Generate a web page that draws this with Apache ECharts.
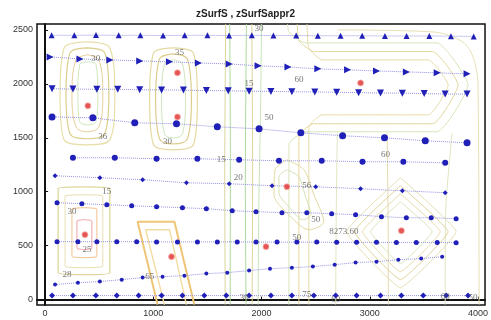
<!DOCTYPE html>
<html>
<head>
<meta charset="utf-8">
<script src="https://cdn.jsdelivr.net/npm/echarts@6/dist/echarts.min.js"></script>
<style>
  html, body { margin: 0; padding: 0; background: #fff; }
  #chart { width: 491px; height: 320px; }
</style>
</head>
<body>
<div id="chart"></div>
<script>
// axis ticks
const xTicks = [0, 1000, 2000, 3000, 4000];
const yTicks = [0, 500, 1000, 1500, 2000, 2500];

// flow rows (zSurfSappr2 gradient)
const rowA = [[60,2450],[270,2450],[470,2452],[680,2450],[880,2450],[1090,2448],[1290,2450],[1500,2450],[1700,2448],[1910,2450],[2110,2448],[2320,2448],[2520,2446],[2730,2446],[2930,2446],[3140,2444],[3340,2444],[3550,2444],[3750,2442],[3960,2440]];
const rowB = [[46,2250],[322,2231],[598,2222],[874,2213],[1149,2204],[1416,2194],[1701,2185],[1968,2167],[2244,2157],[2520,2139],[2795,2130],[3062,2120],[3338,2111],[3623,2102],[3899,2093]];
const rowC = [[64,1955],[257,1952],[478,1950],[671,1950],[874,1945],[1076,1944],[1278,1942],[1490,1938],[1692,1936],[1885,1932],[2087,1930],[2280,1927],[2492,1925],[2694,1922],[2897,1918],[3099,1915],[3301,1914],[3503,1910],[3697,1906],[3899,1905]];
const rowD = [[64,1694],[441,1685],[828,1639],[1214,1630],[1591,1602],[1977,1583],[2363,1546],[2749,1519],[3136,1500],[3513,1472],[3899,1454]];
const rowE = [[257,1315],[644,1315],[1030,1306],[1407,1306],[1793,1296],[2161,1287],[2556,1287],[2933,1278],[3310,1278],[3697,1268]];
const rowF = [[92,1148],[506,1130],[901,1111],[1306,1083],[1701,1074],[2097,1056],[2501,1046],[2915,1028],[3301,1009],[3697,991]];
const rowG = [[110,898],[340,889],[570,880],[800,870],[1030,861],[1269,852],[1490,843],[1729,824],[1949,815],[2189,806],[2418,806],[2648,796],[2869,787],[3108,769],[3338,759],[3568,759],[3798,750]];
const rowH = [[110,537],[303,537],[478,537],[662,537],[846,537],[1030,535],[1223,535],[1407,535],[1591,535],[1775,535],[1949,533],[2143,533],[2326,533],[2510,533],[2694,531],[2878,531],[3062,531],[3246,530],[3430,530],[3623,530],[3798,528]];
const rowI = [[92,139],[303,157],[506,167],[708,185],[901,204],[1085,213],[1287,222],[1490,241],[1683,250],[1885,269],[2078,287],[2280,296],[2474,306],[2676,324],[2869,343],[3062,352],[3264,370],[3475,380],[3669,398]];
const rowJ = [[64,37],[257,37],[469,37],[662,37],[864,37],[1076,37],[1269,37],[1471,37],[1674,37],[1885,37],[2087,37],[2280,37],[2483,37],[2685,37],[2878,37],[3099,37],[3292,37],[3494,37],[3706,37],[3908,37]];

// red points (zSurfS extrema)
const redPoints = [[395,1796],[1223,2102],[1223,1694],[2915,2009],[368,602],[1168,398],[2234,1046],[2041,491],[3292,639]];

// contour lines (zSurfS)
const ovalL1 = [[386,2389],[598,2333],[644,1898],[598,1481],[386,1435],[175,1481],[138,1898],[175,2333],[386,2389]];
const ovalL2 = [[386,2333],[552,2287],[589,1898],[552,1537],[386,1491],[230,1537],[193,1898],[230,2287],[386,2333]];
const ovalL3 = [[386,2269],[497,2222],[533,1898],[497,1602],[386,1556],[285,1602],[248,1898],[285,2222],[386,2269]];
const ovalL4 = [[390,2204],[470,2180],[487,1898],[470,1650],[390,1620],[320,1650],[303,1898],[320,2180],[390,2204]];
const ovalM1 = [[1186,2333],[1370,2287],[1407,1852],[1370,1435],[1186,1389],[1002,1435],[966,1852],[1002,2287],[1186,2333]];
const ovalM2 = [[1186,2278],[1315,2231],[1352,1852],[1315,1491],[1186,1444],[1057,1491],[1021,1852],[1057,2231],[1186,2278]];
const ovalM3 = [[1186,2222],[1269,2185],[1297,1852],[1269,1537],[1186,1500],[1103,1537],[1076,1852],[1103,2185],[1186,2222]];
const vert1 = [[1664,-46],[1660,1200],[1668,2555]];
const vert2 = [[1710,-46],[1712,1300],[1706,2555]];
const vert3 = [[1857,-46],[1850,1100],[1860,2555]];
const vert4 = [[1913,-46],[1918,1200],[1910,2555]];
const vert5 = [[1968,-46],[1975,900],[1990,1700],[2000,2555]];
const tongue1 = [[2437,-46],[2437,1600],[2560,1713],[3540,1713],[3724,1990],[3540,2222],[2560,2222],[2437,2330],[2420,2555]];
const tongue2 = [[2345,-46],[2345,1520],[2480,1630],[3580,1630],[3816,1990],[3580,2300],[2480,2300],[2345,2400],[2330,2555]];
const tongue3 = [[2253,-46],[2253,1440],[2400,1556],[3620,1556],[3908,1990],[3620,2380],[2400,2380],[2253,2480],[2240,2555]];
const rightArc = [[2700,2500],[3600,2480],[3900,2350],[4000,2000],[4010,-46]];
const vertR1 = [[2685,-46],[2690,800],[2700,1550]];
const vertR2 = [[3172,-46],[3170,700],[3160,1550]];
const vertR3 = [[3697,-46],[3700,800],[3760,1540]];
const rectB1 = [[360,1046],[598,1030],[598,250],[360,231],[120,250],[120,1030],[360,1046]];
const rectB2 = [[360,972],[533,960],[533,310],[360,296],[184,310],[184,960],[360,972]];
const rectB3 = [[360,852],[478,840],[478,400],[360,389],[248,400],[248,840],[360,852]];
const rectB4 = [[360,741],[432,730],[432,475],[360,463],[294,475],[294,730],[360,741]];
const trapB1 = [[1039,-46],[855,722],[1195,722],[1379,-46]];
const trapB2 = [[1103,-46],[929,648],[1149,648],[1306,-46]];
const beanP1 = [[2234,1296],[2391,1204],[2483,972],[2575,722],[2437,648],[2253,787],[2115,972],[2124,1204],[2234,1296]];
const beanP2 = [[2234,1204],[2345,1139],[2400,972],[2455,787],[2382,741],[2253,861],[2161,991],[2161,1139],[2234,1204]];
const diamD1 = [[3283,1130],[3798,630],[3283,111],[2786,630],[3283,1130]];
const diamD2 = [[3283,1056],[3724,630],[3283,185],[2860,630],[3283,1056]];
const diamD3 = [[3283,981],[3651,630],[3283,259],[2933,630],[3283,981]];
const diamD4 = [[3283,907],[3577,630],[3283,333],[3007,630],[3283,907]];

// contour labels [x, y, text]
const contourLabels = [
  [469,2231,'30'],[533,1509,'36'],[1241,2287,'35'],[1131,1463,'30'],
  [1977,2509,'30'],[1885,2000,'15'],[2345,2037,'60'],[2069,1685,'50'],
  [1628,1296,'15'],[1784,1130,'20'],[3145,1343,'60'],
  [570,1000,'15'],[248,815,'30'],[386,463,'25'],[202,231,'28'],[966,213,'65'],
  [2418,1055,'56'],[2500,741,'50'],[2326,574,'50'],[2760,630,'8273.60'],
  [1839,19,'30'],[2418,46,'75'],[2685,0,'60'],[3697,28,'60'],[3954,19,'50']
];

// [line, colour, width, smoothing]
const contourSets = [
  [ovalL1, '#e6dfa8', 1.2, 0.35], [ovalL2, '#d9cf8c', 1.2, 0.35], [ovalL3, '#e8cf98', 1, 0.35], [ovalL4, '#cfe8bd', 1, 0.35],
  [ovalM1, '#e4d9a0', 1.2, 0.35], [ovalM2, '#dccd8e', 1.2, 0.35], [ovalM3, '#cde6c0', 1, 0.35],
  [vert1, '#d8d49a', 1, 0.2], [vert2, '#a9d99a', 1, 0.2], [vert3, '#a9d99a', 1, 0.2], [vert4, '#ddd49a', 1, 0.2], [vert5, '#c8e4b8', 1, 0.2],
  [tongue1, '#e6dca6', 1, 0.15], [tongue2, '#e2d79c', 1, 0.15], [tongue3, '#d6e6b8', 1, 0.15], [rightArc, '#e6e0b4', 1, 0.3],
  [vertR1, '#dfe6c0', 1, 0.2], [vertR2, '#e2dcae', 1, 0.2], [vertR3, '#dfe6c0', 1, 0.2],
  [rectB1, '#ddd59a', 1.2, 0.1], [rectB2, '#e8dfb0', 1, 0.1], [rectB3, '#f0c08a', 1, 0.1], [rectB4, '#f0a0a0', 1, 0.1],
  [trapB1, '#efc677', 2, 0], [trapB2, '#f3dca2', 1.4, 0],
  [beanP1, '#e4daa4', 1, 0.3], [beanP2, '#d6e2b6', 1, 0.3],
  [diamD1, '#e6e0b4', 1, 0.1], [diamD2, '#e0d49a', 1, 0.1], [diamD3, '#e8dcaa', 1, 0.1], [diamD4, '#d9e6bc', 1, 0.1]
];

const rows = [
  [rowA, 'triangle', 6, 0],
  [rowB, 'triangle', 7, -90],
  [rowC, 'triangle', 7, 180],
  [rowD, 'circle', 7, 0],
  [rowE, 'circle', 6, 0],
  [rowF, 'diamond', 5, 0],
  [rowG, 'circle', 5, 0],
  [rowH, 'circle', 5, 0],
  [rowI, 'circle', 4, 0],
  [rowJ, 'diamond', 6, 0]
];

const series = [];
contourSets.forEach(([pts, color, width, smooth]) => {
  series.push({
    type: 'line',
    data: pts,
    showSymbol: false,
    smooth: smooth,
    silent: true,
    lineStyle: { color: color, width: width },
    z: 1
  });
});
rows.forEach(([pts, symbol, size, rot]) => {
  series.push({
    type: 'line',
    data: pts,
    symbol: symbol,
    symbolSize: size,
    symbolRotate: rot,
    showAllSymbol: true,
    lineStyle: { color: '#9494e6', width: 1, type: 'dotted' },
    itemStyle: { color: '#2020b8' },
    z: 3
  });
});
series.push({
  type: 'scatter',
  data: redPoints,
  symbolSize: 6,
  itemStyle: { color: '#e02a2a', borderColor: '#f6b0a8', borderWidth: 1 },
  z: 4
});
series.push({
  type: 'scatter',
  data: contourLabels.map((d) => ({ value: [d[0], d[1]], name: d[2] })),
  symbolSize: 0,
  label: {
    show: true,
    position: 'inside',
    formatter: (p) => p.name,
    fontSize: 9,
    color: '#555',
    fontFamily: 'Liberation Serif'
  },
  z: 5
});

const chart = echarts.init(document.getElementById('chart'));
chart.setOption({
  animation: false,
  backgroundColor: '#fff',
  title: {
    text: 'zSurfS , zSurfSappr2',
    left: 'center',
    top: 4,
    textStyle: { fontSize: 10, fontWeight: 'bold', color: '#222', fontFamily: 'Liberation Sans' }
  },
  grid: {
    left: 37, right: 4, top: 24, bottom: 15,
    show: true, borderColor: '#111', borderWidth: 1.5
  },
  xAxis: {
    type: 'value',
    min: -75, max: 4065,
    splitLine: { show: false },
    axisLine: { show: true, lineStyle: { color: '#111', width: 2 } },
    axisTick: { show: true, inside: true, length: 3, customValues: xTicks, lineStyle: { color: '#111' } },
    axisLabel: { customValues: xTicks, formatter: (v) => String(v), fontSize: 9, color: '#333', margin: 4, fontFamily: 'Liberation Sans' }
  },
  yAxis: {
    type: 'value',
    min: -50, max: 2555,
    splitLine: { show: false },
    axisLine: { show: true, lineStyle: { color: '#111', width: 2 } },
    axisTick: { show: true, inside: true, length: 3, customValues: yTicks, lineStyle: { color: '#111' } },
    axisLabel: { customValues: yTicks, formatter: (v) => String(v), fontSize: 9, color: '#333', margin: 4, fontFamily: 'Liberation Sans' }
  },
  series: series
});
</script>
</body>
</html>
